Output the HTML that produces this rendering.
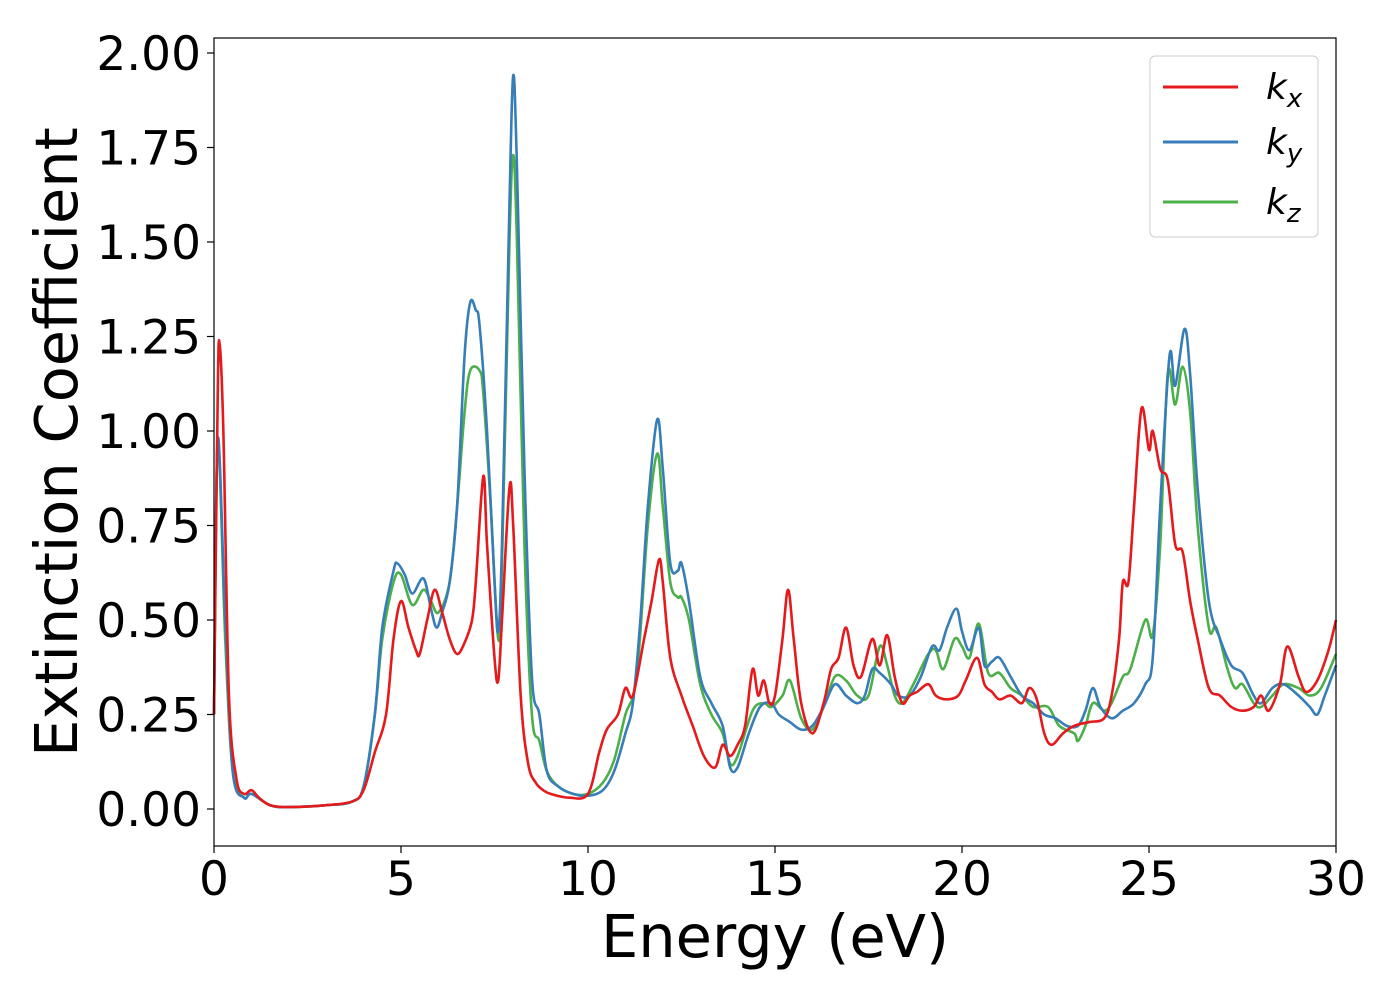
<!DOCTYPE html>
<html><head><meta charset="utf-8"><style>
body{margin:0;background:#fff}
svg text{font-family:"DejaVu Sans","Liberation Sans",sans-serif;fill:#000}
</style></head><body>
<svg id="chart" width="1400" height="1000" viewBox="0 0 1400 1000">
<rect width="1400" height="1000" fill="#fff"/>
<g id="series"></g>
<rect x="214" y="38" width="1122" height="808" fill="none" stroke="#000" stroke-width="1.2"/>
<g id="xticks"></g>
<g id="yticks"></g>
<text x="775" y="957" font-size="59" text-anchor="middle">Energy (eV)</text>
<text transform="translate(77,442) rotate(-90)" font-size="59" text-anchor="middle">Extinction Coefficient</text>
<g>
<rect x="1150" y="56" width="168" height="181" rx="5" fill="#fff" fill-opacity="0.8" stroke="#ccc" stroke-width="1"/>
<line x1="1163" y1="87" x2="1238" y2="87" stroke="#e41a1c" stroke-width="3"/>
<text x="1266" y="99" font-size="36" font-style="italic">k<tspan font-size="26" dy="8">x</tspan></text>
<line x1="1163" y1="142" x2="1238" y2="142" stroke="#377eb8" stroke-width="3"/>
<text x="1266" y="154" font-size="36" font-style="italic">k<tspan font-size="26" dy="8">y</tspan></text>
<line x1="1163" y1="202" x2="1238" y2="202" stroke="#4daf4a" stroke-width="3"/>
<text x="1266" y="214" font-size="36" font-style="italic">k<tspan font-size="26" dy="8">z</tspan></text>
</g>
</svg>
<script>
const xTicks=[0,5,10,15,20,25,30];
const yTicks=[0,0.25,0.5,0.75,1.0,1.25,1.5,1.75,2.0];
const yTickLabels=["0.00","0.25","0.50","0.75","1.00","1.25","1.50","1.75","2.00"];
const kxE=[0,0.1,0.15,0.25,0.4,0.6,0.8,1.0,1.2,1.5,2,3,3.7,4,4.3,4.6,4.8,5,5.2,5.4,5.5,5.7,5.9,6.1,6.3,6.5,6.7,6.9,7.0,7.2,7.3,7.5,7.6,7.7,7.9,8.0,8.2,8.4,8.6,8.8,9,9.5,10,10.3,10.5,10.8,11,11.2,11.5,11.7,11.9,12.0,12.2,12.5,12.8,13.1,13.4,13.6,13.8,14,14.2,14.4,14.55,14.7,14.85,15,15.2,15.35,15.5,15.7,16,16.3,16.5,16.7,16.9,17.1,17.3,17.6,17.8,18,18.2,18.4,18.6,18.8,19.1,19.3,19.6,19.9,20.1,20.4,20.6,20.8,21,21.3,21.6,21.8,22,22.2,22.4,22.7,23,23.4,23.8,24,24.2,24.3,24.45,24.6,24.8,25,25.1,25.3,25.5,25.7,25.9,26.1,26.3,26.6,26.9,27.2,27.5,27.8,28,28.2,28.5,28.7,29,29.2,29.5,29.8,30];
const kxV=[0.25,1.1,1.23,1.0,0.3,0.08,0.04,0.05,0.03,0.01,0.005,0.01,0.02,0.05,0.15,0.25,0.45,0.55,0.48,0.42,0.41,0.5,0.58,0.52,0.45,0.41,0.44,0.5,0.6,0.88,0.7,0.4,0.34,0.5,0.85,0.75,0.3,0.12,0.07,0.05,0.04,0.03,0.04,0.15,0.21,0.25,0.32,0.3,0.45,0.55,0.66,0.6,0.4,0.3,0.22,0.14,0.11,0.17,0.14,0.17,0.22,0.37,0.3,0.34,0.28,0.3,0.45,0.58,0.45,0.28,0.2,0.28,0.37,0.4,0.48,0.38,0.35,0.45,0.38,0.46,0.35,0.28,0.3,0.31,0.33,0.3,0.29,0.3,0.34,0.4,0.33,0.31,0.29,0.3,0.28,0.32,0.29,0.2,0.17,0.2,0.22,0.23,0.24,0.3,0.45,0.6,0.6,0.8,1.06,0.95,1.0,0.9,0.87,0.7,0.68,0.55,0.45,0.32,0.3,0.27,0.26,0.27,0.3,0.26,0.33,0.43,0.35,0.31,0.34,0.42,0.5];
const kyE=[0,0.1,0.3,0.5,0.8,1,1.5,2,3,3.7,4,4.3,4.5,4.8,4.9,5.1,5.3,5.6,5.8,5.95,6.1,6.3,6.5,6.7,6.85,7,7.1,7.3,7.5,7.6,7.7,7.9,8.0,8.1,8.3,8.5,8.7,8.9,9.2,9.6,10,10.4,10.7,11,11.2,11.4,11.6,11.85,12.0,12.2,12.4,12.5,12.7,13,13.3,13.6,13.8,14,14.3,14.6,14.9,15.1,15.4,15.7,16.0,16.3,16.6,16.9,17.2,17.4,17.6,17.8,18.1,18.3,18.6,18.9,19.2,19.4,19.6,19.85,20.0,20.2,20.45,20.6,20.8,21,21.3,21.6,21.9,22.2,22.5,22.8,23.1,23.3,23.5,23.7,24,24.3,24.6,24.9,25.1,25.3,25.55,25.7,25.95,26.1,26.3,26.6,26.9,27.2,27.5,27.8,28.0,28.3,28.6,29,29.3,29.5,29.7,30];
const kyV=[0.25,0.98,0.5,0.1,0.03,0.04,0.01,0.005,0.01,0.02,0.06,0.25,0.48,0.63,0.65,0.62,0.57,0.61,0.53,0.48,0.52,0.6,0.8,1.2,1.34,1.32,1.28,1.0,0.6,0.47,0.7,1.6,1.94,1.7,0.9,0.35,0.25,0.1,0.06,0.04,0.035,0.05,0.1,0.2,0.28,0.5,0.8,1.03,0.9,0.65,0.63,0.65,0.55,0.35,0.28,0.22,0.11,0.11,0.2,0.27,0.28,0.25,0.23,0.21,0.22,0.27,0.33,0.3,0.28,0.3,0.37,0.36,0.33,0.3,0.3,0.35,0.43,0.42,0.48,0.53,0.47,0.42,0.48,0.38,0.39,0.4,0.35,0.3,0.28,0.25,0.24,0.22,0.22,0.26,0.32,0.27,0.24,0.26,0.28,0.33,0.4,0.8,1.2,1.12,1.27,1.15,0.85,0.55,0.45,0.38,0.36,0.3,0.28,0.32,0.33,0.3,0.27,0.25,0.3,0.38];
const kzE=[0,0.1,0.3,0.5,0.8,1,1.5,2,3,3.7,4,4.3,4.5,4.8,5.0,5.3,5.6,5.8,6.0,6.3,6.5,6.7,6.85,7.1,7.2,7.4,7.6,7.7,7.9,8.0,8.1,8.3,8.5,8.7,8.9,9.2,9.6,10,10.4,10.7,11,11.3,11.6,11.85,12.0,12.2,12.4,12.5,12.7,13,13.3,13.6,13.8,14,14.4,14.7,14.9,15.2,15.4,15.7,16,16.3,16.6,16.9,17.2,17.5,17.8,18.0,18.2,18.4,18.7,19.1,19.3,19.5,19.8,20.0,20.2,20.45,20.7,21,21.3,21.6,21.9,22.3,22.6,23,23.1,23.3,23.5,23.8,24,24.3,24.5,24.9,25.1,25.3,25.5,25.7,25.9,26.1,26.3,26.6,26.8,27.1,27.3,27.5,27.8,28.0,28.3,28.6,29,29.3,29.6,30];
const kzV=[0.25,0.98,0.45,0.1,0.03,0.04,0.01,0.005,0.01,0.02,0.06,0.25,0.45,0.6,0.62,0.54,0.58,0.55,0.52,0.6,0.8,1.05,1.16,1.16,1.1,0.8,0.45,0.65,1.5,1.73,1.5,0.7,0.25,0.18,0.1,0.06,0.04,0.04,0.07,0.13,0.25,0.35,0.75,0.94,0.8,0.6,0.56,0.56,0.5,0.33,0.25,0.2,0.12,0.14,0.26,0.28,0.27,0.3,0.34,0.24,0.21,0.27,0.35,0.34,0.3,0.3,0.43,0.38,0.3,0.28,0.33,0.41,0.42,0.37,0.45,0.43,0.4,0.49,0.36,0.36,0.32,0.3,0.27,0.27,0.22,0.2,0.18,0.22,0.28,0.26,0.28,0.35,0.37,0.5,0.46,0.7,1.15,1.07,1.17,1.05,0.75,0.48,0.48,0.37,0.32,0.33,0.28,0.27,0.3,0.33,0.32,0.3,0.32,0.41];
const NS="http://www.w3.org/2000/svg";
const X0=214,X1=1336,Y0=809,Y2=53;
const xs=v=>X0+(v-0)/(30-0)*(X1-X0);
const ys=v=>Y0+(v-0)/(2-0)*(Y2-Y0);
function mk(t,a){const e=document.createElementNS(NS,t);for(const k in a)e.setAttribute(k,a[k]);return e;}
const xg=document.getElementById('xticks');
xTicks.forEach(v=>{
 const l=mk('line',{x1:xs(v),x2:xs(v),y1:846,y2:853,stroke:'#000','stroke-width':1.2});
 
 
 xg.appendChild(l);
 const t=mk('text',{x:xs(v),y:895,'font-size':47,'text-anchor':'middle'});
 
 
 t.textContent=v;xg.appendChild(t);
});
const yg=document.getElementById('yticks');
yTicks.forEach((v,i)=>{
 const l=mk('line',{x1:207,x2:214,y1:ys(v),y2:ys(v),stroke:'#000','stroke-width':1.2});
 
 
 yg.appendChild(l);
 const t=mk('text',{x:201,y:ys(v)+17,'font-size':47,'text-anchor':'end'});
 
 
 t.textContent=yTickLabels[i];yg.appendChild(t);
});
const sg=document.getElementById('series');
[[kzE,kzV,'#4daf4a','series-kz'],[kyE,kyV,'#377eb8','series-ky'],[kxE,kxV,'#e41a1c','series-kx']].forEach(s=>{
 const E=s[0],V=s[1];
 const P=E.map((e,i)=>[xs(e),ys(V[i])]);
 let d='M'+P[0][0]+','+P[0][1];
 for(let i=0;i<P.length-1;i++){
  const p0=P[Math.max(0,i-1)],p1=P[i],p2=P[i+1],p3=P[Math.min(P.length-1,i+2)];
  const c1x=p1[0]+(p2[0]-p0[0])/6,c1y=p1[1]+(p2[1]-p0[1])/6;
  const c2x=p2[0]-(p3[0]-p1[0])/6,c2y=p2[1]-(p3[1]-p1[1])/6;
  d+=' C'+c1x+','+c1y+' '+c2x+','+c2y+' '+p2[0]+','+p2[1];
 }
 const p=mk('path',{d:d,fill:'none',stroke:s[2],'stroke-width':2.6,'stroke-linejoin':'round'});
 
 
 sg.appendChild(p);
});
</script>
</body></html>
